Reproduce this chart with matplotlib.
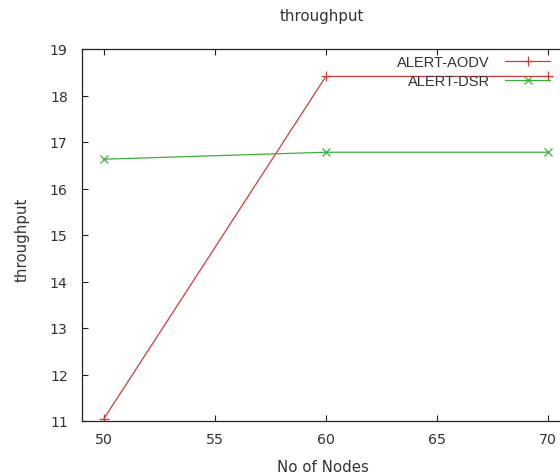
import matplotlib
matplotlib.use('Agg')
import matplotlib.pyplot as plt

# throughput per node count
nodes = [50, 60, 70]
alert_aodv = [11.05, 18.41, 18.41]
alert_dsr = [16.63, 16.78, 16.78]

plt.rcParams['font.family'] = 'DejaVu Sans'
plt.rcParams['text.color'] = '#333333'

fig = plt.figure(figsize=(5.6, 4.77), dpi=100)
ax = fig.add_axes([81.7/560, 1-422/477, (570-81.7)/560, 372/477])

l1, = ax.plot(nodes, alert_aodv, color='#d23a3a', lw=0.9, marker='+', ms=7, mew=0.9)
l2, = ax.plot(nodes, alert_dsr, color='#3cae3c', lw=0.9, marker='x', ms=5.5, mew=0.9)

ax.set_xlim(49, 71)
ax.set_ylim(11, 19)
ax.set_xticks([50, 55, 60, 65, 70])
ax.set_yticks(range(11, 20))
ax.tick_params(direction='in', length=4, width=0.8, top=True, right=True,
               labelsize=10.2, colors='#222222', labelcolor='#333333')
ax.tick_params(axis='y', pad=10)
ax.tick_params(axis='x', pad=8)
for s in ax.spines.values():
    s.set_color('#222222')
    s.set_linewidth(0.9)

fig.text(322/560, 1-17/477, 'throughput', ha='center', va='center', fontsize=10.8)
fig.text(323/560, 1-468/477, 'No of Nodes', ha='center', va='center', fontsize=10.8)
fig.text(22/560, 1-240/477, 'throughput', ha='center', va='center', fontsize=10.8, rotation=90)

# one legend per series so each label sits flush right
kw = dict(loc='center right', bbox_transform=fig.transFigure, markerfirst=False,
          frameon=False, handlelength=3.08, handletextpad=1.03, borderpad=0,
          borderaxespad=0, prop={'family': 'Liberation Sans', 'size': 10.5})
leg1 = ax.legend([l1], ['ALERT-AODV'], bbox_to_anchor=(550/560, 1-63/477), **kw)
ax.add_artist(leg1)
ax.legend([l2], ['ALERT-DSR'], bbox_to_anchor=(550/560, 1-82/477), **kw)

fig.savefig('out.png', dpi=100)
